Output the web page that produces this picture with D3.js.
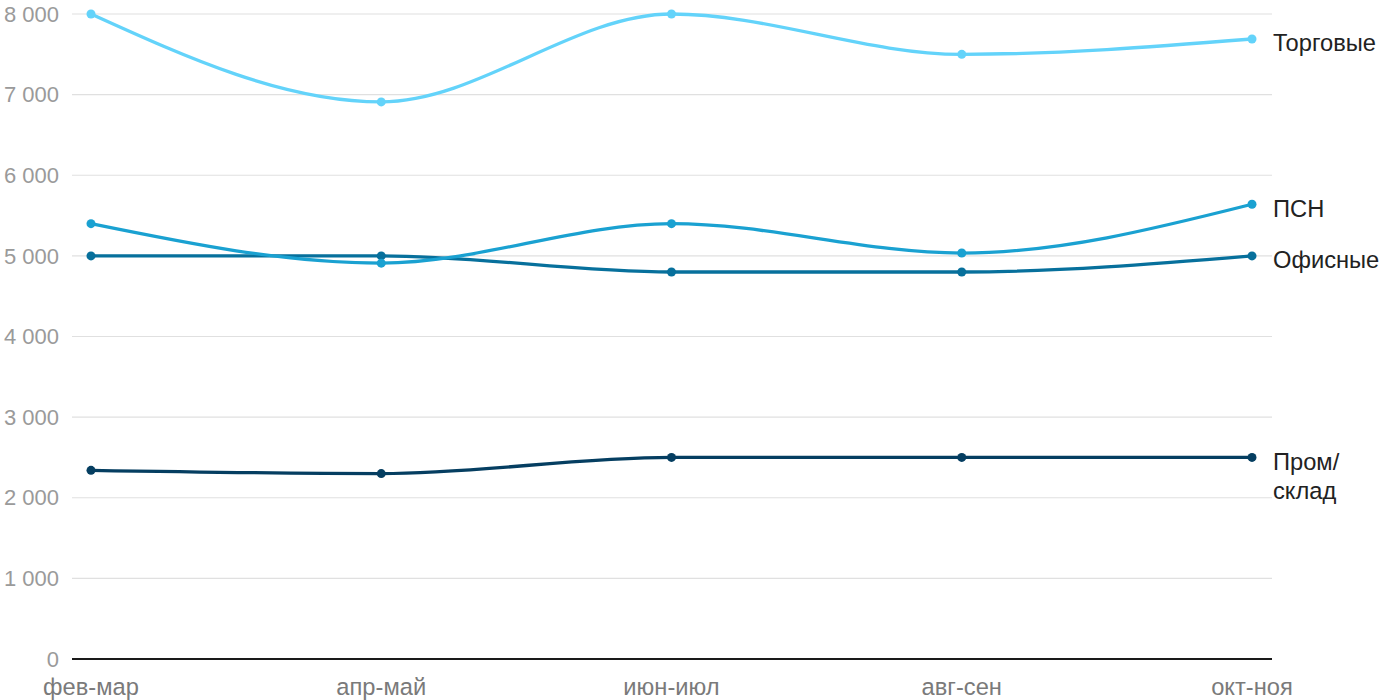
<!DOCTYPE html>
<html><head><meta charset="utf-8">
<script src="https://cdn.jsdelivr.net/npm/d3@7"></script>
<style>body{margin:0;background:#fff;}svg{display:block;font-family:"Liberation Sans",Arial,sans-serif;}</style>
</head><body>
<svg id="c" width="1400" height="700"></svg>
<script>
const categories = ["фев-мар","апр-май","июн-июл","авг-сен","окт-ноя"];
const seriesNames = ["Торговые","ПСН","Офисные","Пром/склад"];
const labelLines = [["Торговые"],["ПСН"],["Офисные"],["Пром/","склад"]];
const torgovye = [8000, 6910, 8000, 7500, 7690];
const psn = [5400, 4910, 5400, 5035, 5640];
const ofisnye = [5000, 5000, 4800, 4800, 5000];
const prom = [2340, 2300, 2500, 2500, 2500];
const yTicks = [0,1000,2000,3000,4000,5000,6000,7000,8000];
const colors = ["#63d3fa","#1aa1d1","#07709c","#053e61"];
const seriesValues = [torgovye, psn, ofisnye, prom];

const svg = d3.select("#c");
const x = d3.scalePoint().domain(categories).range([91,1252]);
const y = d3.scaleLinear().domain([0,8000]).range([659,14]);
const fmt = v => d3.format(",")(v).replace(/,/g," ");

svg.append("g").selectAll("line").data(yTicks.filter(d=>d>0)).join("line")
  .attr("x1",72).attr("x2",1272).attr("y1",d=>y(d)).attr("y2",d=>y(d))
  .attr("stroke","#e0e0e0").attr("stroke-width",1.2);
svg.append("g").selectAll("text").data(yTicks).join("text")
  .attr("x",59).attr("y",d=>y(d)).attr("dy","0.35em").attr("text-anchor","end")
  .attr("fill","#9a9a9a").attr("font-size",22).text(fmt);
svg.append("line").attr("x1",72).attr("x2",1272).attr("y1",y(0)).attr("y2",y(0))
  .attr("stroke","#1a1a1a").attr("stroke-width",2);
svg.append("g").selectAll("text").data(categories).join("text")
  .attr("x",d=>x(d)).attr("y",695).attr("text-anchor","middle")
  .attr("fill","#7a7a7a").attr("font-size",23.7).text(d=>d);

const line = d3.line().x((d,i)=>x(categories[i])).y(d=>y(d)).curve(d3.curveMonotoneX);
seriesValues.slice().reverse().forEach((vals,ri)=>{
  const i = seriesValues.length-1-ri;
  const g = svg.append("g");
  g.append("path").attr("d",line(vals)).attr("fill","none")
    .attr("stroke",colors[i]).attr("stroke-width",3.3);
  g.selectAll("circle").data(vals).join("circle")
    .attr("cx",(d,j)=>x(categories[j])).attr("cy",d=>y(d)).attr("r",4.5)
    .attr("fill",colors[i]);
  const t = g.append("text").attr("x",1273).attr("y",y(vals[vals.length-1])+4)
    .attr("fill","#222").attr("font-size",23.7);
  labelLines[i].forEach((s,k)=>{
    t.append("tspan").attr("x",1273).attr("dy",k===0?"0.35em":"29").text(s);
  });
});
</script>
</body></html>
